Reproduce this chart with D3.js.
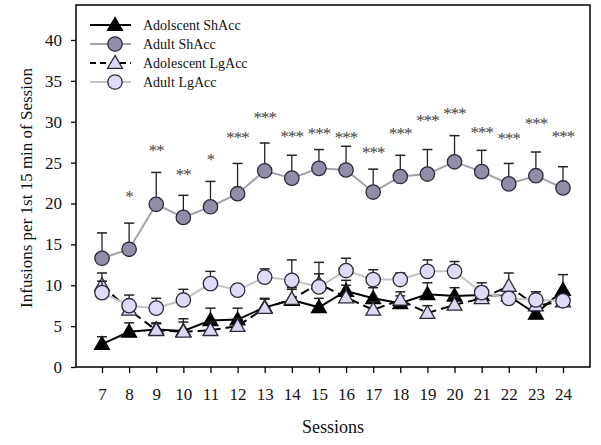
<!DOCTYPE html>
<html><head><meta charset="utf-8">
<script src="https://cdn.jsdelivr.net/npm/d3@7"></script>
<style>body{margin:0;background:#fff}svg{display:block}text{font-family:"Liberation Serif","Times New Roman",serif}</style>
</head><body><svg id="c" width="601" height="445"></svg>
<script>
const sessions = [7,8,9,10,11,12,13,14,15,16,17,18,19,20,21,22,23,24];
const adolShAcc     = [2.8,4.3,4.6,4.4,5.7,5.8,7.3,8.2,7.3,9.3,8.4,7.8,8.9,8.7,8.8,8.7,6.5,9.4];
const adolShAccErr  = [0.9,1.1,0.7,1.5,1.5,1.4,1.0,1.3,1.1,1.3,1.3,0.9,1.4,1.0,1.0,1.0,0.7,1.9];
const adultShAcc    = [13.3,14.4,19.9,18.3,19.6,21.2,24.0,23.1,24.3,24.1,21.4,23.3,23.6,25.1,23.9,22.4,23.4,21.9];
const adultShAccErr = [3.1,3.2,3.9,2.7,3.1,3.7,3.4,2.8,2.3,2.9,2.8,2.6,3.0,3.2,2.6,2.5,2.9,2.6];
const adolLgAcc     = [10.0,7.0,4.5,4.3,4.5,5.0,7.2,8.3,10.2,8.5,7.0,8.2,6.6,7.6,8.4,9.9,7.5,8.0];
const adolLgAccErr  = [1.5,1.0,0.9,1.2,1.0,0.9,1.2,1.4,1.2,1.5,1.0,1.0,0.9,1.0,0.9,1.6,0.8,0.8];
const adultLgAcc    = [9.1,7.5,7.2,8.2,10.2,9.4,11.0,10.6,9.8,11.8,10.7,10.7,11.7,11.7,9.1,8.4,8.2,8.1];
const adultLgAccErr = [1.4,1.3,1.2,1.3,1.5,0.5,1.0,2.5,3.0,1.5,1.2,0.8,1.4,1.2,1.2,0.6,1.0,0.7];
const starSessions = [8,9,10,11,12,13,14,15,16,17,18,19,20,21,22,23,24];
const starLabels   = ["*","**","**","*","***","***","***","***","***","***","***","***","***","***","***","***","***"];
const starValues   = [21.4,27.0,24.1,25.9,28.6,31.1,28.7,29.1,28.6,26.8,29.1,30.7,31.6,29.2,28.5,30.3,28.8];
const yTicks = [0,5,10,15,20,25,30,35,40];
const seriesNames = ["Adolscent ShAcc","Adult ShAcc","Adolescent LgAcc","Adult LgAcc"];

const svg = d3.select("#c");
const L=76, R=590, T=5, B=367;
const x = d3.scalePoint().domain(sessions).range([102,563]);
const y = d3.scaleLinear().domain([0,40]).range([367,40]);

const series = [
  {name:seriesNames[0], vals:adolShAcc, err:adolShAccErr, shape:"tri", fill:"#000", stroke:"#000", line:"#000", dash:null, lw:2},
  {name:seriesNames[1], vals:adultShAcc, err:adultShAccErr, shape:"circ", fill:"#8f8ea6", stroke:"#2a2a3a", line:"#a2a2ac", dash:null, lw:2},
  {name:seriesNames[2], vals:adolLgAcc, err:adolLgAccErr, shape:"tri", fill:"#d9d9f2", stroke:"#2a2a3a", line:"#000", dash:"9,5", lw:2},
  {name:seriesNames[3], vals:adultLgAcc, err:adultLgAccErr, shape:"circ", fill:"#dcdcf7", stroke:"#2a2a3a", line:"#c4c4c4", dash:null, lw:2}
];
const triSym = d3.symbol().type(d3.symbolTriangle).size(95);

function drawMarker(g, s, cx, cy){
  if(s.shape==="circ"){
    g.append("circle").attr("cx",cx).attr("cy",cy).attr("r",7.2).attr("fill",s.fill).attr("stroke",s.stroke).attr("stroke-width",1.3);
  } else {
    g.append("path").attr("d",triSym).attr("transform",`translate(${cx},${cy+1})`).attr("fill",s.fill).attr("stroke",s.stroke).attr("stroke-width",1.3);
  }
}

// frame
svg.append("rect").attr("x",L).attr("y",T).attr("width",R-L).attr("height",B-T).attr("fill","none").attr("stroke","#000").attr("stroke-width",1.5);

// axes
const yAxis = d3.axisLeft(y).tickValues(yTicks).tickSize(5).tickPadding(9);
const gy = svg.append("g").attr("transform",`translate(${L},0)`).call(yAxis);
gy.select(".domain").remove();
gy.selectAll("text").attr("font-size",17).attr("fill","#111");
const xAxis = d3.axisBottom(x).tickSize(6).tickPadding(15);
const gx = svg.append("g").attr("transform",`translate(0,${B})`).call(xAxis);
gx.select(".domain").remove();
gx.selectAll("text").attr("font-size",17).attr("fill","#111");
gx.selectAll("line").attr("stroke-width",1.3);
gy.selectAll("line").attr("stroke-width",1.3);

svg.append("text").attr("x",(L+R)/2).attr("y",433).attr("text-anchor","middle").attr("font-size",18).attr("fill","#111").text("Sessions");
svg.append("text").attr("transform","translate(32,188) rotate(-90)").attr("text-anchor","middle").attr("font-size",17).attr("fill","#111").text("Infusions per 1st 15 min of Session");

// series
const line = d3.line().x((d,i)=>x(sessions[i])).y(d=>y(d));
series.forEach(s=>{
  const g = svg.append("g");
  s.vals.forEach((v,i)=>{
    const cx=x(sessions[i]), top=y(v+s.err[i]);
    g.append("line").attr("x1",cx).attr("x2",cx).attr("y1",y(v)).attr("y2",top).attr("stroke","#222").attr("stroke-width",1.3);
    g.append("line").attr("x1",cx-5).attr("x2",cx+5).attr("y1",top).attr("y2",top).attr("stroke","#222").attr("stroke-width",1.5);
  });
  g.append("path").datum(s.vals).attr("d",line).attr("fill","none").attr("stroke",s.line).attr("stroke-width",s.lw).attr("stroke-dasharray",s.dash);
  s.vals.forEach((v,i)=>drawMarker(g,s,x(sessions[i]),y(v)));
});

// stars
svg.append("g").selectAll("text").data(starSessions).join("text")
  .attr("x",d=>x(d)).attr("y",(d,i)=>y(starValues[i])+10)
  .attr("text-anchor","middle").attr("font-size",17).attr("fill","#444").attr("letter-spacing","-1")
  .text((d,i)=>starLabels[i]);

// legend
const lg = svg.append("g");
series.forEach((s,i)=>{
  const ly = 25 + i*19;
  lg.append("line").attr("x1",90).attr("x2",131).attr("y1",ly).attr("y2",ly).attr("stroke",s.line).attr("stroke-width",2).attr("stroke-dasharray",s.dash?"6,4":null);
  drawMarker(lg,s,115,ly);
  lg.append("text").attr("x",143).attr("y",ly+5).attr("font-size",14).attr("fill","#111").text(s.name);
});
</script></body></html>
